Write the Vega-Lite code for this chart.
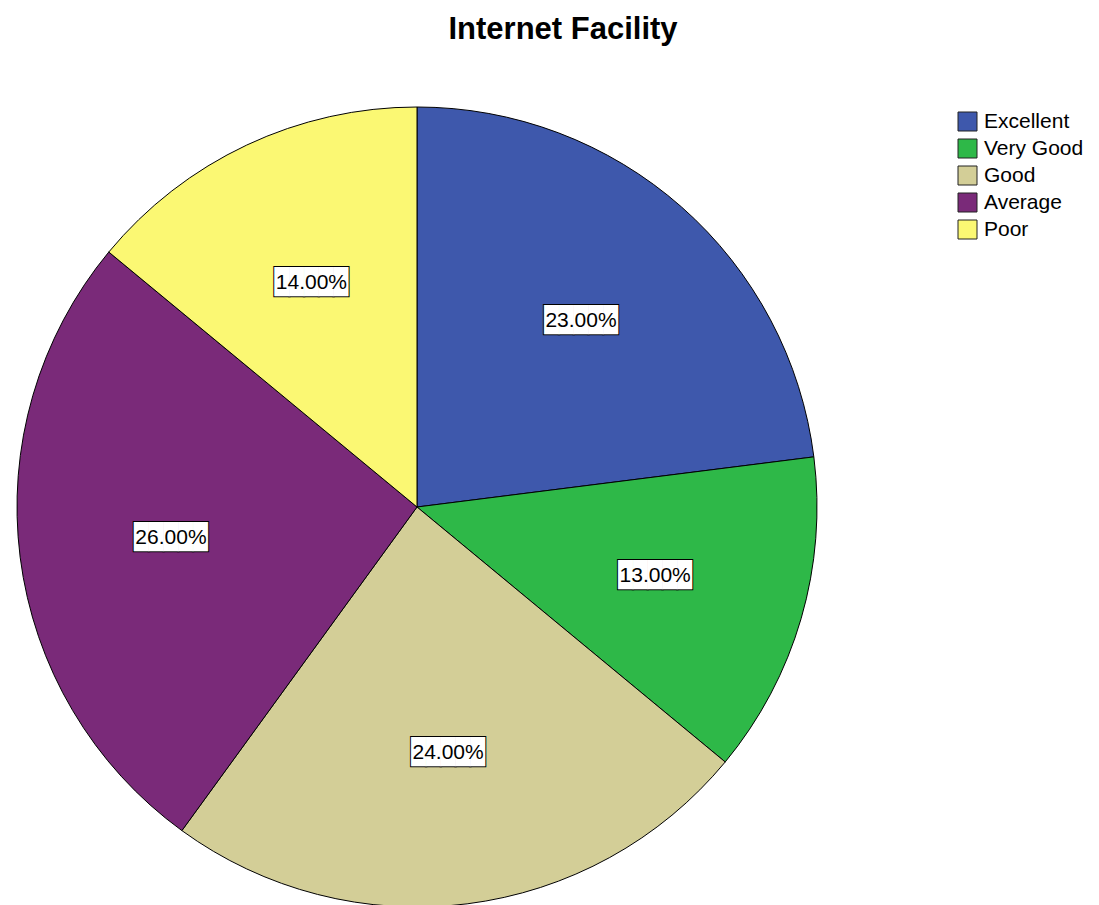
{
  "$schema": "https://vega.github.io/schema/vega-lite/v6.json",
  "width": 834,
  "height": 800,
  "padding": {"top": 14, "left": 0, "right": 0, "bottom": 0},
  "background": "white",
  "config": {"view": {"stroke": null}},
  "title": {
    "text": "Internet Facility",
    "font": "Liberation Sans",
    "fontSize": 31,
    "fontWeight": "bold",
    "color": "black",
    "anchor": "middle",
    "dx": 146,
    "offset": 59
  },
  "data": {
    "values": [
      {"category": "Excellent", "share": 0.23, "idx": 1},
      {"category": "Very Good", "share": 0.13, "idx": 2},
      {"category": "Good", "share": 0.24, "idx": 3},
      {"category": "Average", "share": 0.26, "idx": 4},
      {"category": "Poor", "share": 0.14, "idx": 5}
    ]
  },
  "encoding": {
    "theta": {"field": "share", "type": "quantitative", "stack": true},
    "order": {"field": "idx", "type": "quantitative"}
  },
  "layer": [
    {
      "mark": {"type": "arc", "stroke": "black", "strokeWidth": 1},
      "encoding": {
        "color": {
          "field": "category",
          "type": "nominal",
          "sort": ["Excellent", "Very Good", "Good", "Average", "Poor"],
          "scale": {
            "domain": ["Excellent", "Very Good", "Good", "Average", "Poor"],
            "range": ["#3E58AC", "#2EB848", "#D3CE97", "#7A2A79", "#FBF873"]
          },
          "legend": {
            "title": null,
            "orient": "right",
            "offset": 119,
            "padding": 4,
            "symbolType": "square",
            "symbolSize": 361,
            "symbolStrokeColor": "#222222",
            "symbolStrokeWidth": 1,
            "symbolOpacity": 1,
            "labelFont": "Liberation Sans",
            "labelFontSize": 21,
            "labelColor": "black",
            "labelOffset": 6,
            "rowPadding": 4
          }
        }
      }
    },
    {
      "mark": {"type": "text", "radius": 248, "font": "DejaVu Sans Mono", "fontSize": 24.5, "baseline": "middle", "align": "center", "fill": "white", "stroke": "black", "strokeWidth": 2},
      "encoding": {
        "detail": {"field": "category", "type": "nominal"},
        "text": {"value": "█████"}
      }
    },
    {
      "mark": {"type": "text", "radius": 248, "font": "DejaVu Sans Mono", "fontSize": 24.5, "baseline": "middle", "align": "center", "fill": "white", "strokeWidth": 0},
      "encoding": {
        "detail": {"field": "category", "type": "nominal"},
        "text": {"value": "█████"}
      }
    },
    {
      "mark": {"type": "text", "radius": 248, "font": "Liberation Sans", "fontSize": 21, "baseline": "middle", "align": "center", "color": "black"},
      "encoding": {
        "detail": {"field": "category", "type": "nominal"},
        "text": {"field": "share", "type": "quantitative", "format": ".2%"}
      }
    }
  ]
}
